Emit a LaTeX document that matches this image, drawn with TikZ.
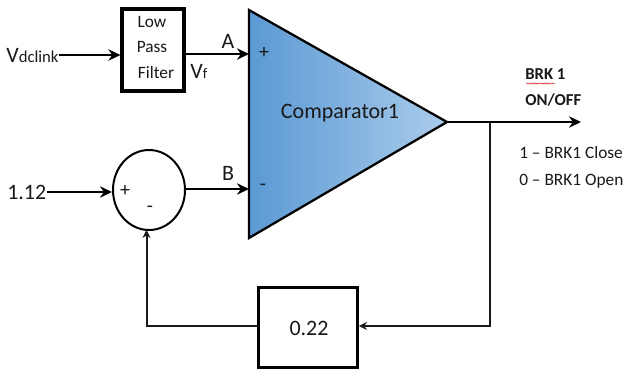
\documentclass[tikz,border=0pt]{standalone}
\usepackage{fontspec}
\setmainfont{Carlito}
\usetikzlibrary{arrows.meta,calc,shapes.geometric,decorations.pathmorphing}
\definecolor{cmpleft}{RGB}{91,153,212}
\definecolor{cmpright}{RGB}{170,204,235}

\begin{document}
\begin{tikzpicture}[
  x=0.75pt,
  y=-0.75pt,
  >={Stealth[length=9pt,width=8.5pt]},
  every node/.style={inner sep=0pt, text=black!90},
  wire/.style={draw=black, line width=2.2pt},
  fbwire/.style={draw=black!90, line width=1.5pt, >={Stealth[length=6pt,width=6pt]}},
  box/.style={draw=black, line width=2.4pt, fill=white},
  small/.style={font=\fontsize{13}{15}\selectfont},
  mid/.style={font=\fontsize{15}{17}\selectfont},
  big/.style={font=\fontsize{16.5}{18}\selectfont},
  head/.style={font=\bfseries\fontsize{12.5}{15}\selectfont, anchor=west},
]
  \useasboundingbox (0,0) rectangle (624,372);

  % Comparator
  \coordinate (top) at (249,10);
  \coordinate (bot) at (249,238);
  \coordinate (out) at (447,122);
  \draw[line width=1.7pt, draw=black, left color=cmpleft, right color=cmpright]
    (top) -- (out) -- (bot) -- cycle;
  \node[big] (cmp) at (340,113) {Comparator1};
  \node[mid] (plus) at (264,53) {+};
  \node[mid] (minus) at (263,187) {-};
  \coordinate (inA) at (249,54);
  \coordinate (inB) at (249,189);

  % Blocks
  \node[box, minimum width=46.5pt, minimum height=61.5pt] (lpf) at (153,50) {};
  \node[small] (low) at (152,22) {Low};
  \node[small] (pass) at (152,47) {Pass};
  \node[small] (filt) at (156,73) {Filter};
  \node[draw=black, line width=1.5pt, ellipse, fill=white, minimum width=54pt, minimum height=60pt] (sum) at (149,190) {};
  \node[mid] (sp) at (125,191) {+};
  \node[mid] (sm) at (150,209) {-};
  \node[box, minimum width=74pt, minimum height=60.5pt] (gain) at (308,327.5) {};
  \node[big] (gval) at (309,328) {0.22};

  % Inputs
  \node[big, anchor=west] (vdc) at (6,55) {V\fontsize{12.5}{14}\selectfont dclink};
  \node[big, anchor=west] (ref) at (7,192) {1.12};
  \draw[wire,->] (vdc.east) -- (lpf.west |- vdc.east);
  \draw[wire,->] (ref.east) -- (sum.west |- ref.east);
  \draw[wire,->] (lpf.east |- inA) -- (inA);
  \draw[wire,->] (sum.east |- inB) -- (inB);
  \node[big] (a) at (228,41) {A};
  \node[big] (b) at (228,173) {B};
  \node[big, anchor=west] (vf) at (190,71) {V\fontsize{11}{12}\selectfont f};

  % Output
  \coordinate (end) at (581,122);
  \coordinate (tap) at (490,122);
  \coordinate (fb) at (146.5,230);
  \draw[wire,->] (out) -- (end);
  \draw[fbwire,->] (tap) |- (gain.east |- 0,326);
  \draw[fbwire,->] (gain.west |- 0,326) -| (fb);

  \node[head] (brk) at (525,74) {BRK 1};
  \node[head] (onoff) at (525,100) {ON/OFF};
  \draw[red!80!black, line width=0.35pt, decorate, decoration={snake, amplitude=0.5pt, segment length=2.2pt}]
    (526,83.5) -- (555,83.5);
  \node[small, anchor=west] (cl) at (519,153) {1 – BRK1 Close};
  \node[small, anchor=west] (op) at (519,181) {0 – BRK1 Open};
\end{tikzpicture}
\end{document}
